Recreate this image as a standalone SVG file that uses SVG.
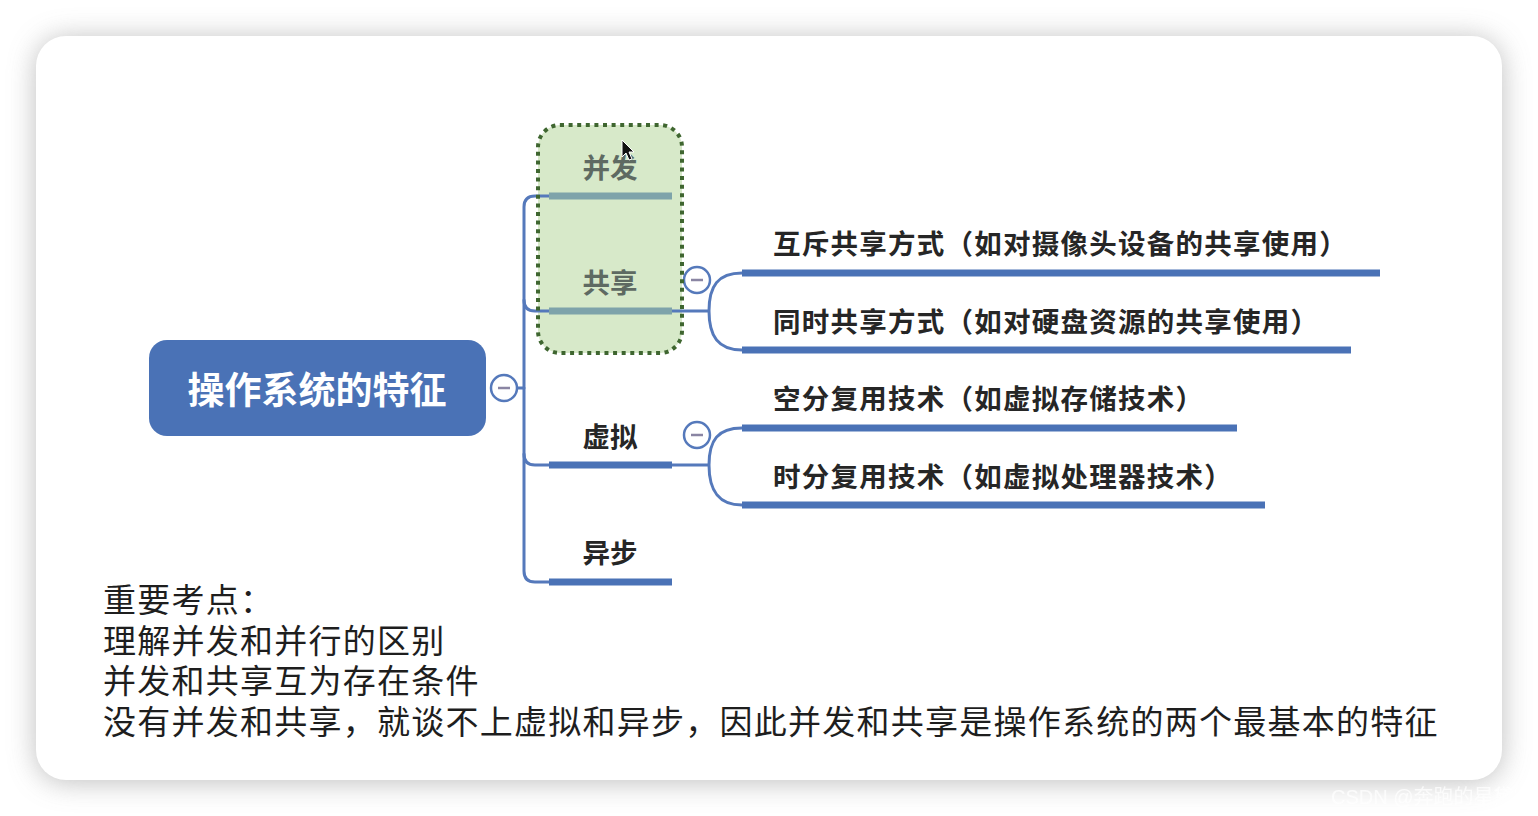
<svg xmlns="http://www.w3.org/2000/svg" width="1538" height="816" viewBox="0 0 1538 816">
<style>
.lbl{font-family:"Noto Sans CJK SC","Noto Sans",sans-serif;font-size:27.5px;font-weight:bold;fill:#262626}
.lblc{letter-spacing:1.25px}
.lblg{font-family:"Noto Sans CJK SC","Noto Sans",sans-serif;font-size:27.5px;font-weight:bold;fill:#5e6a62}
.note{font-family:"Noto Sans CJK SC","Noto Sans",sans-serif;font-size:33px;fill:#1e1e1e;letter-spacing:1.25px}
.thin{fill:none;stroke:#5579bb;stroke-width:3;stroke-linecap:round}
.thick{stroke:#4a72b6;stroke-width:7}
.thickg{stroke:#7ea3aa;stroke-width:7}
.tog circle{fill:#fff;stroke:#5579bb;stroke-width:2.5}
.tog line{stroke:#8a85a3;stroke-width:2.5}
</style>
<defs>
<filter id="sh" x="-10%" y="-10%" width="120%" height="120%">
<feGaussianBlur stdDeviation="14"/>
</filter>
</defs>
<rect width="1538" height="816" fill="#ffffff"/>
<rect x="36" y="38" width="1466" height="744" rx="30" fill="#a8a8a8" opacity="0.75" filter="url(#sh)"/>
<rect x="36" y="36" width="1466" height="744" rx="30" fill="#ffffff"/>

<g id="highlight-fill">
<rect x="538" y="125" width="144" height="228" rx="22" fill="#d7e9c9"/>
</g>

<g id="connectors">
<path class="thin" d="M517,388 H524"/>
<path class="thin" d="M549,196 H535 Q524,196 524,207 V571 Q524,582 535,582 H549"/>
<path class="thin" d="M524,300 Q524,311 535,311 H549"/>
<path class="thin" d="M524,454 Q524,465 535,465 H549"/>
<path class="thin" d="M672,311 H709 M709,311 C709,286 718,273 742,273 M709,311 C709,336 718,350 742,350"/>
<path class="thin" d="M672,465 H709 M709,465 C709,440 718,428 742,428 M709,465 C709,490 718,505 742,505"/>
</g>

<g id="root">
<rect x="149" y="340" width="337" height="96" rx="18" fill="#4a72b6"/>
<text x="317" y="404" text-anchor="middle" font-family="'Noto Sans CJK SC',sans-serif" font-size="37" font-weight="bold" fill="#ffffff">操作系统的特征</text>
<g class="tog"><circle cx="504" cy="388" r="13"/><line x1="498" y1="388" x2="510" y2="388"/></g>
</g>

<g id="node-bingfa">
<line class="thickg" x1="549" y1="196" x2="672" y2="196"/>
<text class="lblg" x="610" y="178" text-anchor="middle">并发</text>
</g>
<g id="node-gongxiang">
<line class="thickg" x1="549" y1="311" x2="672" y2="311"/>
<text class="lblg" x="610" y="293" text-anchor="middle">共享</text>
<g class="tog"><circle cx="697" cy="280" r="13"/><line x1="691" y1="280" x2="703" y2="280"/></g>
</g>
<g id="node-xuni">
<line class="thick" x1="549" y1="465" x2="672" y2="465"/>
<text class="lbl" x="610" y="447" text-anchor="middle">虚拟</text>
<g class="tog"><circle cx="697" cy="435" r="13"/><line x1="691" y1="435" x2="703" y2="435"/></g>
</g>
<g id="node-yibu">
<line class="thick" x1="549" y1="582" x2="672" y2="582"/>
<text class="lbl" x="610" y="563" text-anchor="middle">异步</text>
</g>

<g id="node-huchi">
<line class="thick" x1="742" y1="273" x2="1380" y2="273"/>
<text class="lbl lblc" x="773" y="254">互斥共享方式（如对摄像头设备的共享使用）</text>
</g>
<g id="node-tongshi">
<line class="thick" x1="742" y1="350" x2="1351" y2="350"/>
<text class="lbl lblc" x="773" y="332">同时共享方式（如对硬盘资源的共享使用）</text>
</g>
<g id="node-kongfen">
<line class="thick" x1="742" y1="428" x2="1237" y2="428"/>
<text class="lbl lblc" x="773" y="409">空分复用技术（如虚拟存储技术）</text>
</g>
<g id="node-shifen">
<line class="thick" x1="742" y1="505" x2="1265" y2="505"/>
<text class="lbl lblc" x="773" y="487">时分复用技术（如虚拟处理器技术）</text>
</g>

<g id="highlight-border">
<rect x="538" y="125" width="144" height="228" rx="22" fill="none" stroke="#3f6630" stroke-width="4" stroke-dasharray="4 4.6"/>
</g>

<path id="cursor" d="M622,140 L622,157 L626,153 L629,160 L632,159 L629,152 L634,152 Z" fill="#111" stroke="#fff" stroke-width="1"/>

<g id="notes">
<text class="note" x="103" y="612">重要考点：</text>
<text class="note" x="103" y="653">理解并发和并行的区别</text>
<text class="note" x="103" y="693">并发和共享互为存在条件</text>
<text class="note" x="103" y="734">没有并发和共享，就谈不上虚拟和异步，因此并发和共享是操作系统的两个最基本的特征</text>
</g>

<text x="1331" y="804" font-family="'Liberation Sans','Noto Sans CJK SC',sans-serif" font-size="20" fill="#ffffff" opacity="0.75">CSDN @奔跑的星黛露</text>
</svg>
